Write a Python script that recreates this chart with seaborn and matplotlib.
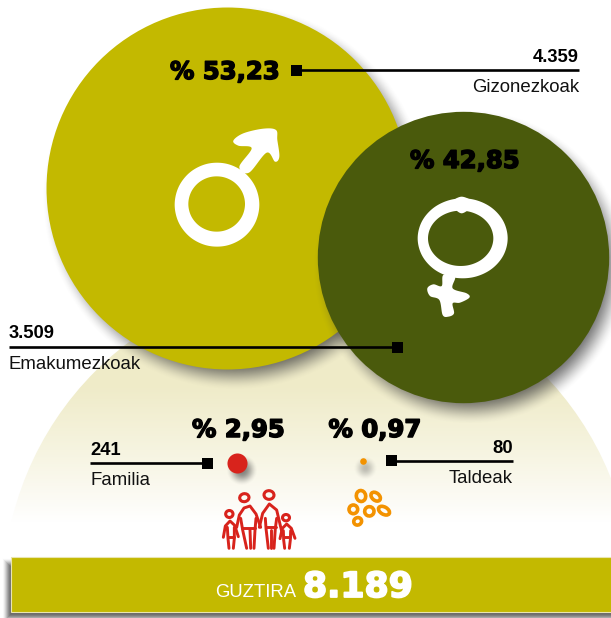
import numpy as np
import pandas as pd
import matplotlib
matplotlib.use("Agg")
import matplotlib.pyplot as plt
from matplotlib.patches import Circle, Ellipse, PathPatch, Rectangle
from matplotlib.path import Path
from matplotlib.colors import to_rgb
import matplotlib.patheffects as pe
import seaborn as sns

# ---- data ----
categories = ["Gizonezkoak", "Emakumezkoak", "Familia", "Taldeak"]
counts = ["4.359", "3.509", "241", "80"]
shares = [53.23, 42.85, 2.95, 0.97]
total_label = "GUZTIRA"
total_value = "8.189"

# ---- layout (pixels) ----
W, H = 611, 618
PX_PER_SHARE = 3.4        # bubble radius per percentage point
centres_x = [227, 462.5, 237, 362.5]
centres_y = [187.5, 257, 463, 461]
colours = ["#C3B900", "#4A5A0C", "#D8231C", "#F39200"]
shadow_off = [(8, 10), (8, 10), (5, 7), (3, 7)]
shadow_shrink = [3, 3, 1, -3]
shadow_blur = [15, 15, 7, 6]
shadow_peak = [0.78, 0.78, 0.62, 0.32]

sns.set_theme(style="white")
plt.rcParams["font.family"] = ["Liberation Sans", "DejaVu Sans"]

fig = plt.figure(figsize=(W / 100, H / 100), dpi=100, facecolor="white")
ax = fig.add_axes([0, 0, 1, 1])
ax.set_xlim(0, W)
ax.set_ylim(H, 0)

yy, xx = np.mgrid[0:H, 0:W] + 0.5


def smoothstep(v):
    v = np.clip(v, 0, 1)
    return v * v * (3 - 2 * v)


def shadow_image(dist, blur, peak, z, colour="#404040"):
    """dist = signed distance to shape edge (negative inside)."""
    rgba = np.zeros((H, W, 4))
    rgba[..., :3] = to_rgb(colour)
    rgba[..., 3] = peak * smoothstep((blur - dist) / (2 * blur))
    ax.imshow(rgba, extent=(0, W, H, 0), zorder=z, aspect="auto", interpolation="nearest")


# ---- pale dome with vertical fade ----
stops_y = np.array([279, 385, 450, 500, 522])
stops_c = np.array([to_rgb(c) for c in ["#EFEBC8", "#EFEBC8", "#F6F4E0", "#FCFBF5", "#FFFFFF"]])
rows = np.arange(H) + 0.5
grad = np.stack([np.interp(rows, stops_y, stops_c[:, i]) for i in range(3)], axis=1)[:, None, :]
dome_im = ax.imshow(grad, extent=(0, W, H, 0), zorder=1, aspect="auto")
dome_clip = Circle((318, 594), 315, transform=ax.transData, facecolor="none", edgecolor="none")
ax.add_patch(dome_clip)
dome_im.set_clip_path(dome_clip)


# ---- bubbles: diameter proportional to share ----
frame = pd.DataFrame({"cat": categories, "x": centres_x, "y": centres_y, "share": shares})
for i, row in frame.iterrows():
    r = row["share"] * PX_PER_SHARE
    dx, dy = shadow_off[i]
    dist = np.hypot(xx - row["x"] - dx, yy - row["y"] - dy) - (r - shadow_shrink[i])
    shadow_image(dist, shadow_blur[i], shadow_peak[i], z=2 + 2 * i)
    diam_pt = 2 * r * 0.72
    sns.scatterplot(data=frame.iloc[[i]], x="x", y="y", hue="cat", size="cat",
                    palette={row["cat"]: colours[i]}, sizes={row["cat"]: diam_pt ** 2},
                    linewidth=0, legend=False, ax=ax, zorder=3 + 2 * i)


# ---- hand drawn icons ----
def smooth(points, samples=14):
    p = np.asarray(points, float)
    n = len(p)
    out = []
    for i in range(n):
        p0, p1, p2, p3 = p[(i - 1) % n], p[i], p[(i + 1) % n], p[(i + 2) % n]
        for t in np.linspace(0, 1, samples, endpoint=False):
            out.append(0.5 * (2 * p1 + (p2 - p0) * t + (2 * p0 - 5 * p1 + 4 * p2 - p3) * t ** 2
                              + (3 * p1 - p0 - 3 * p2 + p3) * t ** 3))
    return np.array(out)


def to_px(points):
    return np.asarray(points, float) / 3 + np.array([150, 0])


def oval(cx, cy, rx, ry, n=14):
    t = np.linspace(0, 2 * np.pi, n, endpoint=False)
    return np.column_stack([cx + rx * np.cos(t), cy + ry * np.sin(t)])


def blob(outer, inner=None, z=12):
    pieces = [smooth(to_px(outer))]
    if inner is not None:
        pieces.append(smooth(to_px(inner))[::-1])
    verts, codes = [], []
    for q in pieces:
        verts.extend(q.tolist() + [q[0].tolist()])
        codes.extend([Path.MOVETO] + [Path.LINETO] * (len(q) - 1) + [Path.CLOSEPOLY])
    ax.add_patch(PathPatch(Path(verts, codes), facecolor="white", edgecolor="none", zorder=z))


blob(oval(201, 614, 127, 126), oval(200, 612, 85, 83))
blob([(268, 500), (305, 445), (265, 437), (250, 422), (280, 400), (340, 386), (378, 390), (382, 420),
      (388, 470), (375, 485), (350, 458), (297, 518)])
blob(oval(938, 715, 135, 120), oval(932, 715, 98, 83))
blob([(905, 610), (935, 590), (970, 610), (935, 640)])
blob([(880, 825), (915, 830), (908, 865), (950, 880), (958, 893), (930, 908), (908, 910), (912, 940),
      (895, 950), (878, 945), (868, 900), (840, 888), (832, 865), (850, 853), (875, 858)])


def z3(x, y):
    return 200 + x / 3, 440 + y / 3


RED, ORANGE = colours[2], colours[3]
for (x, y, w, h, a) in [(133, 173, 28, 24, -10), (207, 165, 30, 26, 5), (88, 222, 22, 21, 0), (258, 233, 21, 19, 0)]:
    cx, cy = z3(x, y)
    ax.add_patch(Ellipse((cx, cy), w / 3, h / 3, angle=a, fill=False, edgecolor=RED, lw=2.2, zorder=12))
family_lines = [
    [(110, 262), (118, 225), (132, 204), (150, 198), (168, 222), (182, 262)],
    [(122, 235), (128, 270), (140, 325)], [(168, 235), (165, 270), (162, 325)],
    [(150, 270), (152, 325)], [(127, 265), (166, 265)],
    [(178, 262), (188, 220), (208, 192), (230, 210), (247, 282)],
    [(196, 235), (198, 265), (205, 325)], [(230, 235), (226, 265), (222, 325)],
    [(213, 270), (213, 325)], [(197, 262), (228, 262)],
    [(70, 292), (76, 258), (90, 243), (104, 256), (115, 290)],
    [(82, 262), (84, 295), (87, 325)], [(103, 262), (103, 295), (100, 325)], [(83, 290), (103, 290)],
    [(240, 296), (247, 265), (260, 252), (274, 265), (285, 295)],
    [(250, 272), (251, 300), (254, 325)], [(272, 272), (271, 300), (268, 325)], [(251, 290), (271, 290)],
]
for seg in family_lines:
    pts = [z3(*p) for p in seg]
    ax.plot(*zip(*pts), color=RED, lw=2.1, solid_capstyle="round", solid_joinstyle="round", zorder=12)
for (x, y, w, h, a) in [(483, 168, 28, 33, -10), (527, 170, 32, 22, 40), (460, 208, 26, 26, 0),
                        (508, 214, 28, 28, 30), (552, 212, 36, 22, 30), (473, 244, 24, 22, -30)]:
    cx, cy = z3(x, y)
    ax.add_patch(Ellipse((cx, cy), w / 3, h / 3, angle=a, fill=False, edgecolor=ORANGE, lw=2.6, zorder=12))

# ---- total bar ----
bar_x0, bar_y0, bar_y1 = 11, 557, 612
dist_bar = np.maximum(np.maximum(bar_x0 - 4 - xx, xx - 2000), np.maximum(bar_y0 + 6 - yy, yy - bar_y1 - 6))
shadow_image(dist_bar, 5, 0.8, z=14)
ax.add_patch(Rectangle((bar_x0, bar_y0), W, bar_y1 - bar_y0, facecolor=colours[0],
                       edgecolor="#E9E5B0", lw=0.8, zorder=15))

# ---- leaders ----
leader_y = [70, 347, 463, 460.7]
leader_square_x = [296, 397.5, 207.5, 391.7]
leader_end_x = [579, 9, 90, 513]
for xs, xe, y in zip(leader_square_x, leader_end_x, leader_y):
    ax.plot([xs, xe], [y, y], color="black", lw=1.9, solid_capstyle="butt", zorder=20)
    ax.add_patch(Rectangle((xs - 5.5, y - 5.5), 11, 11, facecolor="black", edgecolor="none", zorder=20))

# ---- text ----
pct_pos = [(170, 79), (410, 168), (192, 437), (328.5, 437)]
heavy = {"family": "DejaVu Sans", "weight": "bold", "color": "black", "zorder": 25, "va": "baseline"}
stroke = [pe.withStroke(linewidth=1.1, foreground="black")]
for s, (x, y) in zip(shares, pct_pos):
    ax.text(x, y, "% " + f"{s:.2f}".replace(".", ","), fontsize=17.5, ha="left",
            path_effects=stroke, **heavy)

count_pos = [(579, 62, "right"), (9, 338, "left"), (90, 455, "left"), (513, 453, "right")]
name_pos = [(579, 92, "right"), (9, 369, "left"), (90, 485, "left"), (513, 483, "right")]
for c, n, cp, np_ in zip(counts, categories, count_pos, name_pos):
    ax.text(cp[0], cp[1], c, fontsize=13.2, fontweight="bold", ha=cp[2], va="baseline", color="black", zorder=25)
    ax.text(np_[0], np_[1], n, fontsize=13.4, ha=np_[2], va="baseline", color="#111111", zorder=25)

ax.text(215, 597, total_label, fontsize=13.3, color="white", ha="left", va="baseline", zorder=25)
ax.text(303, 597, total_value, fontsize=25, color="white", family="DejaVu Sans", weight="bold",
        ha="left", va="baseline", zorder=25,
        path_effects=[pe.withStroke(linewidth=1.3, foreground="white")])

ax.set_xlim(0, W)
ax.set_ylim(H, 0)
ax.set_axis_off()
fig.savefig("out.png", dpi=100)
